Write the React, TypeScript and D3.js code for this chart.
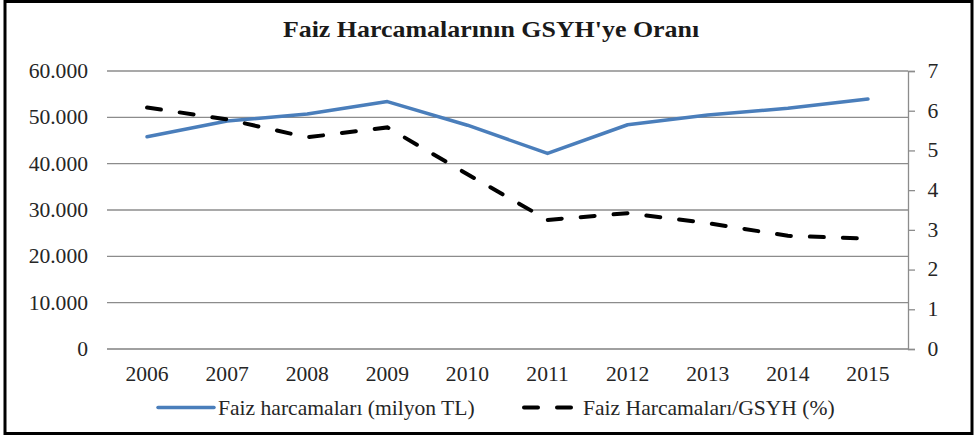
import React, { useRef, useEffect } from 'react';
import * as d3 from 'd3';

const years = ['2006', '2007', '2008', '2009', '2010', '2011', '2012', '2013', '2014', '2015'];
const faizHarcamalari = [45800, 49200, 50700, 53400, 48300, 42200, 48400, 50500, 51950, 53950];
const gsyhOrani = [6.08, 5.78, 5.33, 5.58, 4.4, 3.25, 3.42, 3.17, 2.85, 2.78];
const leftTicks = [0, 10000, 20000, 30000, 40000, 50000, 60000];
const rightTicks = [0, 1, 2, 3, 4, 5, 6, 7];

const title = "Faiz Harcamalarının GSYH'ye Oranı";
const legendBlue = 'Faiz harcamaları (milyon TL)';
const legendBlack = 'Faiz Harcamaları/GSYH (%)';

const App: React.FC = () => {
  const ref = useRef<SVGSVGElement | null>(null);

  useEffect(() => {
    if (!ref.current) return;
    const svg = d3.select(ref.current);
    svg.selectAll('*').remove();

    const width = 975;
    const height = 436;
    const margin = { top: 71, right: 67, bottom: 87, left: 107 };
    const font = 'Liberation Serif';
    const textColor = '#262626';
    const stretch = 1.08; // the original text is a bit wider than Times

    const trLocale = d3.formatLocale({ decimal: ',', thousands: '.', grouping: [3], currency: ['', ''] });
    const fmt = trLocale.format(',');

    const pos = (px: number, py: number) => `translate(${px},${py}) scale(${stretch},1)`;

    // frame
    svg.append('rect')
      .attr('x', 5).attr('y', 1.5)
      .attr('width', 967).attr('height', 432)
      .attr('fill', '#fff')
      .attr('stroke', '#000')
      .attr('stroke-width', 3);

    const x = d3.scaleBand()
      .domain(years)
      .range([margin.left, width - margin.right]);

    const yLeft = d3.scaleLinear()
      .domain([0, 60000])
      .range([height - margin.bottom, margin.top]);

    const yRight = d3.scaleLinear()
      .domain([0, 7])
      .range([height - margin.bottom, margin.top]);

    // title
    svg.append('text')
      .attr('transform', pos(491, 37))
      .attr('text-anchor', 'middle')
      .style('font-family', font)
      .style('font-weight', 'bold')
      .style('font-size', '24px')
      .attr('fill', '#1a1a1a')
      .text(title);

    // gridlines
    svg.append('g')
      .selectAll('line')
      .data(leftTicks)
      .join('line')
      .attr('x1', margin.left)
      .attr('x2', width - margin.right)
      .attr('y1', d => yLeft(d))
      .attr('y2', d => yLeft(d))
      .attr('stroke', d => (d === 0 ? '#808080' : '#8c8c8c'))
      .attr('stroke-width', d => (d === 0 ? 1.6 : 1.3));

    // left axis labels
    svg.append('g')
      .selectAll('text')
      .data(leftTicks)
      .join('text')
      .attr('transform', d => pos(88, yLeft(d)))
      .attr('dy', '0.35em')
      .attr('text-anchor', 'end')
      .style('font-family', font)
      .style('font-size', '20px')
      .attr('fill', textColor)
      .text(d => fmt(d));

    // right axis
    const rightAxis = d3.axisRight(yRight)
      .tickValues(rightTicks)
      .tickSize(7)
      .tickPadding(11)
      .tickFormat(d => String(d));

    const ra = svg.append('g')
      .attr('transform', `translate(${width - margin.right},0)`)
      .call(rightAxis);
    ra.select('.domain').attr('stroke', '#8c8c8c').attr('stroke-width', 1.3);
    ra.selectAll('.tick line').attr('stroke', '#8c8c8c').attr('stroke-width', 1.3);
    ra.selectAll('.tick text')
      .attr('transform', `scale(${stretch},1)`)
      .style('font-family', font)
      .style('font-size', '20px')
      .attr('fill', textColor);

    // x labels
    svg.append('g')
      .selectAll('text')
      .data(years)
      .join('text')
      .attr('transform', d => pos((x(d) as number) + x.bandwidth() / 2, 381))
      .attr('text-anchor', 'middle')
      .style('font-family', font)
      .style('font-size', '20px')
      .attr('fill', textColor)
      .text(d => d);

    const cx = (i: number) => (x(years[i]) as number) + x.bandwidth() / 2;

    const blueLine = d3.line<number>()
      .x((_, i) => cx(i))
      .y(d => yLeft(d));

    const blackLine = d3.line<number>()
      .x((_, i) => cx(i))
      .y(d => yRight(d));

    svg.append('path')
      .datum(faizHarcamalari)
      .attr('fill', 'none')
      .attr('stroke', '#4a7ebb')
      .attr('stroke-width', 3.5)
      .attr('stroke-linejoin', 'round')
      .attr('stroke-linecap', 'round')
      .attr('d', blueLine);

    svg.append('path')
      .datum(gsyhOrani)
      .attr('fill', 'none')
      .attr('stroke', '#000')
      .attr('stroke-width', 4)
      .attr('stroke-dasharray', '14,19')
      .attr('stroke-linecap', 'round')
      .attr('d', blackLine);

    // legend
    const lg = svg.append('g');
    lg.append('line')
      .attr('x1', 158).attr('x2', 214)
      .attr('y1', 407.5).attr('y2', 407.5)
      .attr('stroke', '#4a7ebb')
      .attr('stroke-width', 3.5)
      .attr('stroke-linecap', 'round');
    lg.append('text')
      .attr('transform', pos(218, 415))
      .style('font-family', font)
      .style('font-size', '20px')
      .attr('fill', textColor)
      .text(legendBlue);

    lg.append('line')
      .attr('x1', 524).attr('x2', 572)
      .attr('y1', 407.5).attr('y2', 407.5)
      .attr('stroke', '#000')
      .attr('stroke-width', 4)
      .attr('stroke-dasharray', '14,19')
      .attr('stroke-linecap', 'round');
    lg.append('text')
      .attr('transform', pos(583, 415))
      .style('font-family', font)
      .style('font-size', '20px')
      .attr('fill', textColor)
      .text(legendBlack);
  }, []);

  return (
    <svg
      ref={ref}
      width={975}
      height={436}
      style={{ position: 'absolute', left: 0, top: 0, display: 'block' }}
    />
  );
};

export default App;
